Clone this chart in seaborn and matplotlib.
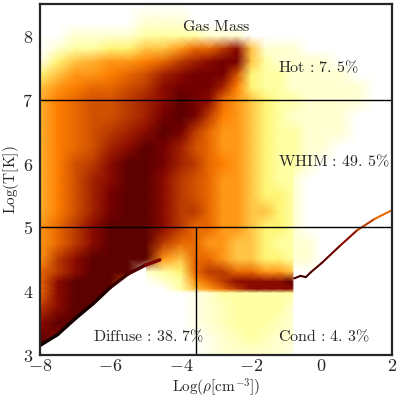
import numpy as np
import pandas as pd
import seaborn as sns
import matplotlib.pyplot as plt
from matplotlib.collections import LineCollection

sns.set_theme(style='ticks')
plt.rcParams['mathtext.fontset'] = 'cm'
plt.rcParams['font.family'] = ['DejaVu Serif']

# grid nodes of the phase diagram (log density, log temperature)
logrho_nodes = [-8, -7.5, -7, -6.5, -6, -5.5, -5, -4.5, -4, -3.6, -3.2, -2.8,
                -2.4, -2.0, -1.6, -1.2, -0.82, -0.78, -0.4, 0, 0.5, 1, 1.5, 2]
logT_nodes = [8.5, 8.2, 8.0, 7.8, 7.6, 7.4, 7.2, 7.0, 6.75, 6.5, 6.25, 6.0, 5.75,
              5.5, 5.25, 5.0, 4.75, 4.5, 4.3, 4.15, 4.03, 3.97, 3.75, 3.5, 3.25, 3.0]

# mass level (0 = empty, 9 = densest), one list per logT row
mass_rows = [
    [0] * 24,
    [0, 0, 0, 0, 0, 0, 1, 1, 1] + [0] * 15,
    [0, 0, 1, 1, 1, 1, 2, 2, 2, 2, 1, 1, 1] + [0] * 11,
    [0, 1, 2, 2, 3, 3, 4, 4, 5, 6, 6, 7, 8, 4, 1, 1, 1, 1] + [0] * 6,
    [0.5, 3, 4, 4.5, 5, 5, 5.5, 6, 7, 7.5, 8, 8.5, 8.5, 4, 2, 1, 1, 1, 1, 1, 0, 0, 0, 0],
    [3, 4, 5, 5, 5.5, 6, 6.5, 7.5, 8, 8.5, 8.5, 8.5, 6.5, 3, 2, 2, 1, 1, 1, 1, 1, 0, 0, 0],
    [4, 5, 5.5, 6, 6, 6.5, 7, 8, 8.5, 8.5, 8.5, 7.5, 5.5, 3, 2, 2, 1, 1, 1, 1, 1, 1, 0, 0],
    [4.5, 5.5, 6, 6.5, 6.5, 7, 7.5, 8, 9, 8.5, 8, 6, 5, 4, 3, 2, 2, 2, 1, 1, 1, 1, 0, 0],
    [4.5, 5.5, 6, 6.5, 6.5, 7, 7.5, 8.5, 9, 8.5, 7, 5.5, 5, 4, 3, 2, 1, 1, 1, 1, 1, 0, 0, 0],
    [4.5, 5.5, 6, 6.5, 7, 7.5, 8, 9, 8.5, 7, 6, 5, 5, 4, 3, 2, 2, 2, 1, 1, 1, 0, 0, 0],
    [4.5, 5.5, 6, 6.5, 7.5, 8, 9, 8.5, 7.5, 6.5, 6, 5, 5, 4, 3, 2, 2, 2, 1, 1, 0, 0, 0, 0],
    [4.5, 5.5, 6.5, 7, 8, 9, 9, 8.5, 7.5, 7, 6, 5.5, 5, 4, 3, 2, 2, 2, 1] + [0] * 5,
    [4.5, 5.5, 6.5, 7.5, 8, 9, 9, 8, 7, 6.5, 6, 5, 5, 4, 3, 2, 2, 1] + [0] * 6,
    [4.5, 5.5, 6.5, 7.5, 8.5, 9, 9, 8, 7, 6.5, 6, 5, 5, 4, 3, 3, 2, 1] + [0] * 6,
    [4.5, 5.5, 6.5, 7.5, 8.5, 9, 9, 8, 7, 7, 6, 5, 5, 4, 4, 3, 2, 1] + [0] * 6,
    [5, 6, 7, 8, 9, 9, 9, 8, 7, 6, 6, 5, 5, 4, 3, 3, 2, 1] + [0] * 6,
    [5, 6, 7, 8, 9, 9, 9, 7, 6, 6, 5, 5, 4, 4, 3, 2, 2, 1, 1] + [0] * 5,
    [5, 7, 8, 9, 9, 9, 9, 5, 4, 6, 6, 5, 4, 4, 3, 3, 2, 1, 1] + [0] * 5,
    [6, 7, 8, 9, 9, 9, 1, 2, 3, 6, 7, 7, 6, 6, 5, 5, 4] + [0] * 7,
    [6, 8, 9, 9, 9, 6, 0, 1, 2, 5, 6, 7, 8, 8, 8, 8, 9] + [0] * 7,
    [6, 8, 9, 9, 9, 4, 0, 0, 2, 4, 5, 6, 7, 8, 8, 8, 8] + [0] * 7,
    [6, 8, 9, 9, 9, 0, 0, 0, 0, 0.5, 1, 2, 2, 2, 2, 2, 2] + [0] * 7,
    [7, 8, 9, 9, 9, 0, 0, 0, 0, 0.5, 1, 1.5, 2, 2, 2, 2, 1] + [0] * 7,
    [8, 9, 9, 9, 0, 0, 0, 0, 0, 0.5, 1, 1.5, 2, 2, 2, 1.5, 1] + [0] * 7,
    [9, 8, 8, 0, 0, 0, 0, 0, 0, 0, 0.5, 1, 1.5, 2, 1.5, 1, 1] + [0] * 7,
    [9, 9, 0, 0, 0, 0, 0, 0, 0, 0, 0.5, 1, 1, 1, 1, 1, 0.5] + [0] * 7,
]

# adiabatic cooling edge (lower left) and star forming gas line (right)
ridge_x = [-8.0, -7.5, -7.0, -6.5, -6.0, -5.5, -5.0, -4.6]
ridge_T = [3.15, 3.32, 3.57, 3.80, 4.06, 4.27, 4.41, 4.49]
ridge_level = [10.5, 10.5, 10.5, 10.5, 10, 9.5, 9, 7.5]

eos_x = [-0.78, -0.6, -0.45, -0.3, 0.0, 0.5, 1.0, 1.5, 2.0]
eos_T = [4.20, 4.24, 4.22, 4.30, 4.44, 4.70, 4.95, 5.13, 5.27]
eos_level = [9.5, 9.5, 9.5, 9.5, 9, 8.5, 7.5, 6.5, 5.5]

hot_cut = 7.0
whim_cut = 5.0
rho_cut = -3.57

phase_names = ['Hot', 'WHIM', 'Diffuse', 'Cond']
phase_fracs = ['7.\\,5', '49.\\,5', '38.\\,7', '4.\\,3']
phase_pos = [(-1.23, 7.5), (-1.23, 6.02), (-6.49, 3.28), (-1.23, 3.28)]

grid = np.array(mass_rows, dtype=float)

fig, ax = plt.subplots(figsize=(4, 4), dpi=100)
fig.subplots_adjust(left=0.1, right=0.98, bottom=0.1125, top=0.99)

cmap = plt.get_cmap('afmhot_r')
norm = plt.Normalize(0, 11)
ax.pcolormesh(logrho_nodes, logT_nodes, grid, shading='gouraud',
              cmap=cmap, norm=norm, rasterized=True, zorder=1)

# empty region below the cooling edge
ax.fill_between(ridge_x[:-1], 3.0, ridge_T[:-1], color='white', lw=0, zorder=2)


def gradient_line(xs, ys, levels, lw):
    pts = np.column_stack([xs, ys]).reshape(-1, 1, 2)
    segs = np.concatenate([pts[:-1], pts[1:]], axis=1)
    mids = [(a + b) / 2 for a, b in zip(levels[:-1], levels[1:])]
    lc = LineCollection(segs, colors=cmap(norm(mids)), linewidths=lw,
                        capstyle='round', zorder=3)
    ax.add_collection(lc)


gradient_line(ridge_x, ridge_T, ridge_level, 2.5)
gradient_line(eos_x, eos_T, eos_level, 1.5)

# phase boundaries
bounds = pd.DataFrame({
    'x': [-8, 2, -8, 2, rho_cut, rho_cut],
    'y': [hot_cut, hot_cut, whim_cut, whim_cut, 3.0, whim_cut],
    'seg': ['hot', 'hot', 'whim', 'whim', 'rho', 'rho'],
})
sns.lineplot(data=bounds, x='x', y='y', units='seg', estimator=None,
             color='black', lw=1.0, sort=False, ax=ax, zorder=4)

ax.text(-3.0, 8.14, r'$\mathrm{Gas\ Mass}$', ha='center', va='center', fontsize=11.5)
for name, frac, (px, py) in zip(phase_names, phase_fracs, phase_pos):
    ax.text(px, py, r'$\mathrm{%s}\,:\,%s\%%$' % (name, frac),
            ha='left', va='center', fontsize=11.5, zorder=5)

ax.set_xlim(-8, 2)
ax.set_ylim(3, 8.5)
xt = [-8, -6, -4, -2, 0, 2]
yt = [3, 4, 5, 6, 7, 8]
ax.set_xticks(xt)
ax.set_xticklabels(['$%d$' % v for v in xt], fontsize=13)
ax.set_yticks(yt)
ax.set_yticklabels(['$%d$' % v for v in yt], fontsize=13)
ax.tick_params(direction='in', length=7, width=1.3, top=True, right=True)
ax.tick_params(axis='x', pad=1.5)
ax.tick_params(axis='y', pad=5)
for sp in ax.spines.values():
    sp.set_linewidth(1.6)
    sp.set_zorder(6)
ax.set_xlabel(r'$\mathrm{Log}(\rho[\mathrm{cm}^{-3}])$', fontsize=11, labelpad=1)
ax.set_ylabel(r'$\mathrm{Log(T[K])}$', fontsize=11, labelpad=1)

fig.savefig('out.png', dpi=100)
